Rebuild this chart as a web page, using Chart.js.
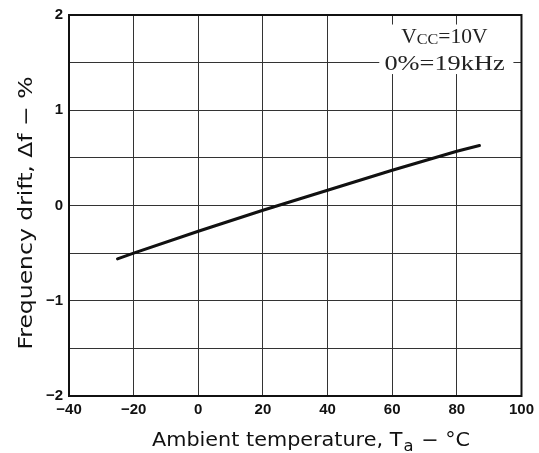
<!DOCTYPE html>
<html>
<head>
<meta charset="utf-8">
<script src="https://cdn.jsdelivr.net/npm/chart.js@4/dist/chart.umd.min.js"></script>
<style>
html,body{margin:0;padding:0;background:#fff;}
#wrap{width:539px;height:453px;position:relative;}
</style>
</head>
<body>
<div id="wrap"><canvas id="c" width="539" height="453"></canvas></div>
<script>
// Data
const temperatures = [-25, -20, 0, 20, 40, 60, 80, 87];
const driftPercent = [-0.56, -0.50, -0.27, -0.05, 0.16, 0.37, 0.57, 0.63];
const xTicks = [-40, -20, 0, 20, 40, 60, 80, 100];
const yTickLabels = [-2, -1, 0, 1, 2];
const xTitleParts = ["Ambient temperature, T", "a", " \u2212 \u00B0C"];
const yTitle = "Frequency drift, \u0394f \u2212 %";
const noteLine1 = ["V", "CC", "=10V"];
const noteLine2 = "0%=19kHz";

const fmt = v => (v < 0 ? "\u2212" + Math.abs(v) : String(v));

const decor = {
  id: 'decor',
  beforeDatasetsDraw(chart) {
    const ctx = chart.ctx;
    const xs = chart.scales.x, ys = chart.scales.y;
    ctx.save();
    ctx.fillStyle = '#fff';
    const bx = xs.getPixelForValue(56), by = ys.getPixelForValue(1.9);
    const bx2 = xs.getPixelForValue(97.5), by2 = ys.getPixelForValue(1.38);
    ctx.fillRect(bx, by, bx2 - bx, by2 - by);
    ctx.fillStyle = '#222';
    ctx.textBaseline = 'alphabetic';
    const big = '20px "Liberation Serif"', sm = '15px "Liberation Serif"';
    ctx.font = big; const a0 = ctx.measureText(noteLine1[0]).width, a2 = ctx.measureText(noteLine1[2]).width;
    ctx.font = sm; const a1 = ctx.measureText(noteLine1[1]).width;
    let x0 = xs.getPixelForValue(62.8), y0 = ys.getPixelForValue(1.71);
    const target1 = xs.getPixelForValue(89.5) - x0;
    ctx.save();
    ctx.translate(x0, y0);
    ctx.scale(target1 / (a0 + a1 + a2), 1);
    ctx.font = big; ctx.fillText(noteLine1[0], 0, 0);
    ctx.font = sm; ctx.fillText(noteLine1[1], a0, 1);
    ctx.font = big; ctx.fillText(noteLine1[2], a0 + a1, 0);
    ctx.restore();
    ctx.font = big;
    const b = ctx.measureText(noteLine2).width;
    let x1 = xs.getPixelForValue(57.6), y1 = ys.getPixelForValue(1.42);
    const target2 = xs.getPixelForValue(94.8) - x1;
    ctx.save();
    ctx.translate(x1, y1);
    ctx.scale(target2 / b, 1);
    ctx.fillText(noteLine2, 0, 0);
    ctx.restore();
    ctx.restore();
  },
  afterDraw(chart) {
    const ctx = chart.ctx, a = chart.chartArea;
    ctx.save();
    ctx.strokeStyle = '#111';
    ctx.lineWidth = 2;
    ctx.strokeRect(a.left, a.top, a.right - a.left, a.bottom - a.top);
    ctx.fillStyle = '#111';
    ctx.textBaseline = 'alphabetic';
    const big = '19px "DejaVu Sans"', small = '15px "DejaVu Sans"';
    // x title fitted to the reference width
    ctx.font = big;
    const w0 = ctx.measureText(xTitleParts[0]).width, w2 = ctx.measureText(xTitleParts[2]).width;
    ctx.font = small;
    const w1 = ctx.measureText(xTitleParts[1]).width + 2;
    const total = w0 + w1 + w2, targetX = 318;
    ctx.save();
    ctx.translate(311 - targetX / 2, 446);
    ctx.scale(targetX / total, 1);
    ctx.font = big; ctx.fillText(xTitleParts[0], 0, 0);
    ctx.font = small; ctx.fillText(xTitleParts[1], w0 + 1, 5);
    ctx.font = big; ctx.fillText(xTitleParts[2], w0 + w1, 0);
    ctx.restore();
    // y title
    ctx.font = big;
    const wy = ctx.measureText(yTitle).width;
    ctx.translate(32, 213);
    ctx.rotate(-Math.PI / 2);
    ctx.scale(273 / wy, 1);
    ctx.textAlign = 'center';
    ctx.fillText(yTitle, 0, 0);
    ctx.restore();
  }
};

new Chart(document.getElementById('c'), {
  type: 'line',
  data: {
    datasets: [{
      data: temperatures.map((t, i) => ({x: t, y: driftPercent[i]})),
      borderColor: '#111',
      borderWidth: 3,
      borderCapStyle: 'round',
      pointRadius: 0,
      tension: 0,
      fill: false
    }]
  },
  options: {
    responsive: false,
    animation: false,
    devicePixelRatio: 1,
    layout: {padding: {top: 10, right: 9, left: 0, bottom: 0}},
    plugins: {legend: {display: false}, tooltip: {enabled: false}},
    scales: {
      x: {
        type: 'linear', min: -40, max: 100,
        afterBuildTicks: s => { s.ticks = xTicks.map(v => ({value: v})); },
        afterFit: s => { s.height = 57; },
        grid: {color: '#333', lineWidth: 1, drawTicks: false},
        border: {display: true, color: '#111', width: 2},
        ticks: {
          padding: 5, color: '#111',
          font: {family: '"Liberation Sans"', size: 15, weight: 'bold'},
          callback: v => fmt(v)
        }
      },
      y: {
        type: 'linear', min: -2, max: 2,
        afterBuildTicks: s => {
          const t = [];
          for (let v = -2; v <= 2.0001; v += 0.5) t.push({value: Math.round(v * 10) / 10});
          s.ticks = t;
        },
        afterFit: s => { s.width = 69; },
        grid: {color: '#333', lineWidth: 1, drawTicks: false},
        border: {display: true, color: '#111', width: 2},
        ticks: {
          padding: 6, color: '#111',
          font: {family: '"Liberation Sans"', size: 15, weight: 'bold'},
          callback: v => (yTickLabels.includes(v) ? fmt(v) : '')
        }
      }
    }
  },
  plugins: [decor]
});
</script>
</body>
</html>
